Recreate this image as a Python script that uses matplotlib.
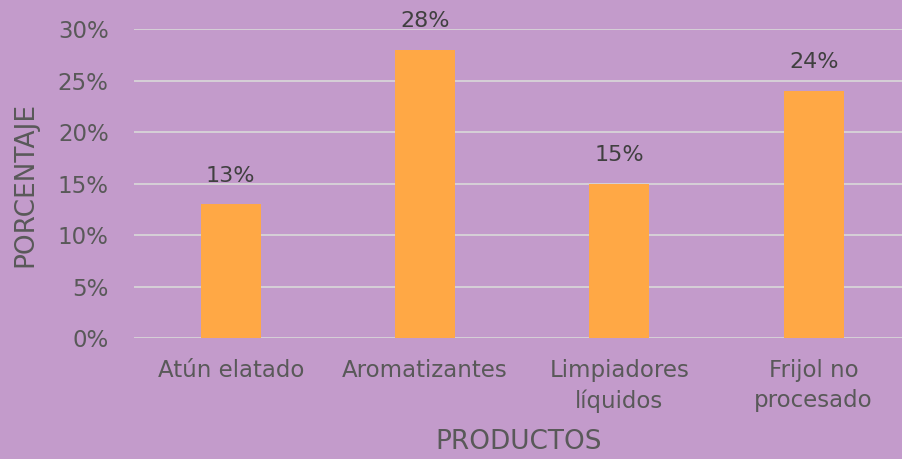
import matplotlib.pyplot as plt

# datos
productos = ['Atún elatado', 'Aromatizantes', 'Limpiadores\nlíquidos', 'Frijol no\nprocesado']
porcentaje = [13, 28, 15, 24]
ticks_y = [0, 5, 10, 15, 20, 25, 30]

fondo = '#C39BCB'
naranja = '#FFA845'
gris = '#595959'

plt.rcParams['font.family'] = ['DejaVu Sans']

fig = plt.figure(figsize=(9.03, 4.59), dpi=100, facecolor=fondo)
ax = fig.add_axes([0.148, 0.2636, 0.852, 0.6732])
ax.set_facecolor(fondo)

x = range(len(productos))
ax.bar(x, porcentaje, width=0.31, color=naranja, zorder=3)

for i, v in zip(x, porcentaje):
    ax.text(i, v + 1.8, f'{v}%', ha='center', va='bottom', fontsize=16,
            color='#404040')

ax.set_xlim(-0.5, 3.46)
ax.set_ylim(0, 30)
ax.set_yticks(ticks_y)
ax.set_yticklabels([f'{t}%' for t in ticks_y], fontsize=16.5, color=gris)
ax.set_xticks(list(x))
ax.set_xticklabels(productos, fontsize=16.5, color=gris, linespacing=1.4)
ax.tick_params(axis='both', length=0)
ax.tick_params(axis='y', pad=18)
ax.tick_params(axis='x', pad=15)
ax.grid(axis='y', color='#D9D9D9', linewidth=1.2, zorder=0)
for s in ax.spines.values():
    s.set_visible(False)

fig.text(0.574, 0.008, 'PRODUCTOS', ha='center', va='bottom', fontsize=19, color=gris)
fig.text(0.028, 0.597, 'PORCENTAJE', ha='center', va='center', rotation=90, fontsize=19, color=gris)

fig.savefig('out.png', dpi=100, facecolor=fondo)
